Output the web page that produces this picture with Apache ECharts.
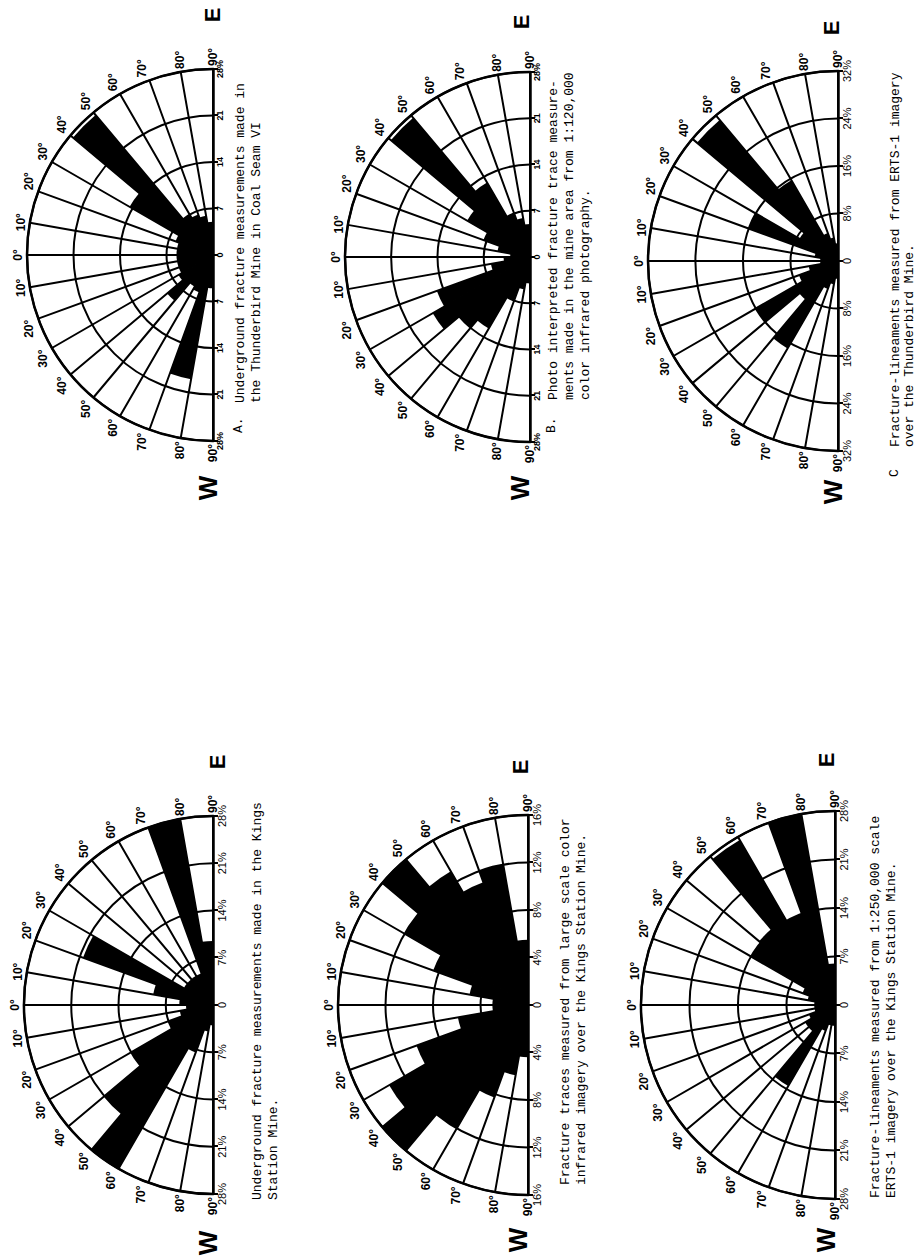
<!DOCTYPE html>
<html>
<head>
<meta charset="utf-8">
<script src="https://cdn.jsdelivr.net/npm/echarts@6/dist/echarts.min.js"></script>
<style>
html,body{margin:0;padding:0;background:#fff;width:916px;height:1259px;overflow:hidden;}
#page{position:absolute;left:0;top:0;width:1259px;height:916px;transform-origin:0 0;transform:translate(0,1259px) rotate(-90deg);background:#fff;}
</style>
</head>
<body>
<div id="page"></div>
<script>
// ---------- DATA (percent of measurements per 10° bin, bins 0-10 ... 80-90) ----------
const sectorCategories = [
  'W80-90','W70-80','W60-70','W50-60','W40-50','W30-40','W20-30','W10-20','W0-10',
  'E0-10','E10-20','E20-30','E30-40','E40-50','E50-60','E60-70','E70-80','E80-90'
];

// A. Underground, Thunderbird Mine, Coal Seam VI
const thunderbirdUndergroundEast = [5.5, 5.5, 6, 14.5, 27.5, 7, 6.5, 6, 5];
const thunderbirdUndergroundWest = [5.5, 5.5, 5.5, 6, 9, 5.5, 6, 19, 5];
// B. Photo interpreted, 1:120,000 color infrared
const thunderbirdPhotoEast = [3, 5, 7.5, 11, 27.5, 13, 7, 6, 5];
const thunderbirdPhotoWest = [4, 6, 15, 17, 14, 12.5, 7, 5, 4];
// C. ERTS-1 imagery over Thunderbird Mine
const thunderbirdErtsEast = [3, 4, 16, 7.5, 31, 15.7, 5, 4, 3];
const thunderbirdErtsWest = [3, 5, 7, 16, 8.5, 17, 5, 4, 3];
// Underground, Kings Station Mine
const kingsUndergroundEast = [5, 9, 20.5, 5, 5, 5, 5, 28, 9.5];
const kingsUndergroundWest = [4, 5, 7, 14, 21, 28, 7.5, 4, 3];
// Large scale color infrared, Kings Station Mine
const kingsInfraredEast = [3, 5, 8.5, 12, 16, 13, 11, 12, 5.5];
const kingsInfraredWest = [3, 6, 10, 13.5, 16, 12, 8.3, 6, 4.4];
// 1:250,000 ERTS-1, Kings Station Mine
const kingsErtsEast = [3, 4, 5, 14, 14.3, 27.5, 14, 28, 6];
const kingsErtsWest = [3, 3, 4, 5, 5, 13.5, 4, 3, 3];

// tick labels along the diameter (W end ... centre ... E end)
const scaleLabelsA = ['28%','21','14','7','0','7','14','21','28%'];
const scaleLabelsB = ['28%','21','14','7','0','7','14','21','28%'];
const scaleLabelsC = ['32%','24%','16%','8%','0','8%','16%','24%','32%'];
const scaleLabelsKU = ['28%','21%','14%','7%','0','7%','14%','21%','28%'];
const scaleLabelsKI = ['16%','12%','8%','4%','0','4%','8%','12%','16%'];
const scaleLabelsKE = ['28%','21%','14%','7%','0','7%','14%','21%','28%'];

// ---------- LAYOUT (unrotated page frame, 1259 x 916) ----------
const panels = [
  {east: thunderbirdUndergroundEast, west: thunderbirdUndergroundWest, labels: scaleLabelsA, max: 28, step: 7, cx: 1004, cy: 213, r: 186, small: true,
   e: [1244, 212], w: [771, 208], tag: 'A.', tagPos: [826, 232],
   caption: 'Underground fracture measurements made in\nthe Thunderbird Mine in Coal Seam VI', capPos: [856, 232], lh: 16},
  {east: thunderbirdPhotoEast, west: thunderbirdPhotoWest, labels: scaleLabelsB, max: 28, step: 7, cx: 1002, cy: 530, r: 185, small: true,
   e: [1237, 521], w: [771, 520], tag: 'B.', tagPos: [826, 545],
   caption: 'Photo interpreted fracture trace measure-\nments made in the mine area from 1:120,000\ncolor infrared photography.', capPos: [859, 545], lh: 16},
  {east: thunderbirdErtsEast, west: thunderbirdErtsWest, labels: scaleLabelsC, max: 32, step: 8, cx: 998, cy: 838, r: 190, small: false,
   e: [1231, 831], w: [767, 833], tag: 'C', tagPos: [782, 888],
   caption: 'Fracture-lineaments measured from ERTS-1 imagery\nover the Thunderbird Mine.', capPos: [812, 888], lh: 14},
  {east: kingsUndergroundEast, west: kingsUndergroundWest, labels: scaleLabelsKU, max: 28, step: 7, cx: 254, cy: 213, r: 189, small: false,
   e: [497, 217], w: [16, 208], tag: '', tagPos: [0, 0],
   caption: 'Underground fracture measurements made in the Kings\nStation Mine.', capPos: [59, 249], lh: 16},
  {east: kingsInfraredEast, west: kingsInfraredWest, labels: scaleLabelsKI, max: 16, step: 4, cx: 254, cy: 528, r: 190, small: false,
   e: [492, 520], w: [19, 518], tag: '', tagPos: [0, 0],
   caption: 'Fracture traces measured from large scale color\ninfrared imagery over the Kings Station Mine.', capPos: [74, 557], lh: 16},
  {east: kingsErtsEast, west: kingsErtsWest, labels: scaleLabelsKE, max: 28, step: 7, cx: 254, cy: 835, r: 194, small: false,
   e: [499, 826], w: [19, 826], tag: '', tagPos: [0, 0],
   caption: 'Fracture-lineaments measured from 1:250,000 scale\nERTS-1 imagery over the Kings Station Mine.', capPos: [61, 867], lh: 16}
];

const option = {
  animation: false,
  backgroundColor: '#fff',
  polar: [], angleAxis: [], radiusAxis: [], grid: [], xAxis: [], yAxis: [], series: [], graphic: []
};

panels.forEach((p, i) => {
  const pi = option.polar.length;
  option.polar.push({center: [p.cx, p.cy], radius: p.r});
  option.polar.push({center: [p.cx, p.cy], radius: p.r});
  option.angleAxis.push({
    polarIndex: pi, type: 'category', data: sectorCategories,
    startAngle: 180, endAngle: 0, clockwise: true, boundaryGap: true,
    axisLine: {show: false}, axisTick: {show: false}, axisLabel: {show: false}, splitLine: {show: false}
  });
  option.radiusAxis.push({
    polarIndex: pi, type: 'value', min: 0, max: p.max,
    axisLine: {show: false}, axisTick: {show: false}, axisLabel: {show: false}, splitLine: {show: false}
  });
  option.angleAxis.push({
    polarIndex: pi + 1, type: 'value', min: -90, max: 90, interval: 10,
    startAngle: 180, endAngle: 0, clockwise: true,
    axisLine: {show: true, lineStyle: {color: '#000', width: 2.5}},
    axisTick: {show: false},
    splitLine: {show: true, lineStyle: {color: '#000', width: 2}},
    axisLabel: {formatter: v => Math.abs(v) + '°', color: '#000', fontWeight: 'bold',
                fontSize: 12, fontFamily: 'Liberation Sans, Arial, sans-serif', margin: 3}
  });
  option.radiusAxis.push({
    polarIndex: pi + 1, type: 'value', min: 0, max: p.max, interval: p.step,
    axisLine: {show: false}, axisTick: {show: false}, axisLabel: {show: false},
    splitLine: {show: true, lineStyle: {color: '#000', width: 2}}
  });
  option.grid.push({left: p.cx - p.r, width: 2 * p.r, top: p.cy - 1, height: 1});
  const lbl = p.labels, mx = p.max, st = p.step;
  option.xAxis.push({
    gridIndex: i, type: 'value', min: -mx, max: mx, interval: st, position: 'bottom',
    axisLine: {show: true, lineStyle: {color: '#000', width: 2.5}},
    axisTick: {show: true, length: 5, lineStyle: {color: '#000', width: 2}},
    splitLine: {show: false},
    axisLabel: {
      formatter: v => lbl[Math.round((v + mx) / st)],
      color: '#000', margin: p.small ? 2 : 3,
      fontSize: p.small ? 9 : 11, fontWeight: p.small ? 'bold' : 'normal',
      fontFamily: p.small ? 'Liberation Sans Narrow, Liberation Sans, Arial, sans-serif' : 'Liberation Sans, Arial, sans-serif'
    }
  });
  option.yAxis.push({gridIndex: i, type: 'value', show: false});
  option.series.push({
    type: 'bar', coordinateSystem: 'polar', polarIndex: pi,
    data: p.west.slice().reverse().concat(p.east),
    barCategoryGap: '0%', itemStyle: {color: '#000'}, silent: true, z: 3
  });
  option.graphic.push({type: 'text', x: p.e[0], y: p.e[1], style: {text: 'E', font: 'bold 22px Liberation Sans, Arial', fill: '#000', textAlign: 'center', textVerticalAlign: 'middle'}});
  option.graphic.push({type: 'text', x: p.w[0], y: p.w[1], style: {text: 'W', font: 'bold 26px Liberation Sans, Arial', fill: '#000', textAlign: 'center', textVerticalAlign: 'middle'}});
  if (p.tag) {
    option.graphic.push({type: 'text', x: p.tagPos[0], y: p.tagPos[1], style: {text: p.tag, font: '13px Liberation Mono, monospace', fill: '#000', textAlign: 'left', textVerticalAlign: 'top'}});
  }
  option.graphic.push({type: 'text', x: p.capPos[0], y: p.capPos[1], style: {text: p.caption, font: '13px Liberation Mono, monospace', lineHeight: p.lh, fill: '#000', textAlign: 'left', textVerticalAlign: 'top'}});
});

const chart = echarts.init(document.getElementById('page'), null, {renderer: 'svg', width: 1259, height: 916});
chart.setOption(option);
</script>
</body>
</html>
